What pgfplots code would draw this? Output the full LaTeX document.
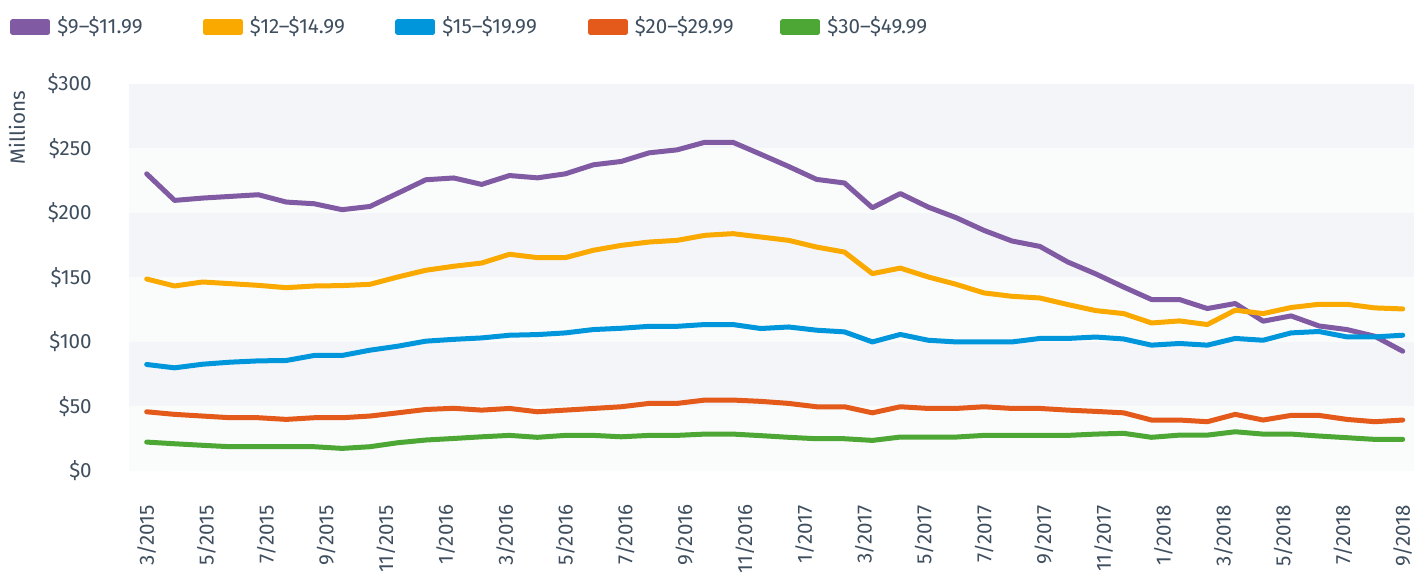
\documentclass[border=0pt]{standalone}
\usepackage{fontspec}
\setmainfont{Fira Sans}
\usepackage{pgfplots}
\pgfplotsset{compat=1.18}
\usepackage{pgfplotstable}
\definecolor{cpurple}{RGB}{128,91,163}
\definecolor{corange}{RGB}{250,169,0}
\definecolor{cblue}{RGB}{0,150,219}
\definecolor{cred}{RGB}{227,90,26}
\definecolor{cgreen}{RGB}{77,167,53}
\definecolor{bandgrey}{RGB}{244,245,249}
\definecolor{bandwhite}{RGB}{250,251,251}
\definecolor{ctext}{RGB}{62,78,94}
\pgfplotstableread{
i  a      b      c      d     e
0  230.3  148.7  82.4   45.7  22.2
1  209.7  143.3  79.8   43.7  20.9
2  211.5  146.4  82.6   42.4  19.7
3  212.8  145.1  84.2   41.1  18.6
4  214.1  143.8  85.2   41.1  18.6
5  208.4  142.0  85.5   39.8  18.6
6  207.1  143.3  89.4   41.1  18.6
7  202.5  143.6  89.4   41.1  17.3
8  205.0  144.6  93.5   42.4  18.6
9  215.3  150.3  96.6   44.9  21.7
10 225.7  155.5  100.5  47.5  23.8
11 227.1  158.6  101.9  48.4  25.0
12 222.1  161.1  103.0  47.0  26.3
13 229.0  167.9  105.1  48.3  27.4
14 227.2  165.3  105.6  45.7  25.9
15 230.3  165.3  106.9  47.0  27.4
16 237.3  171.0  109.5  48.3  27.4
17 239.9  174.8  110.5  49.6  26.3
18 246.6  177.4  112.0  52.2  27.4
19 248.9  178.7  112.0  52.2  27.4
20 254.8  182.6  113.4  54.8  28.4
21 254.8  183.9  113.4  54.8  28.4
22 245.5  181.3  110.3  53.8  27.2
23 236.0  178.7  111.5  52.2  25.9
24 226.0  173.5  109.0  49.6  24.8
25 223.2  169.6  107.7  49.6  24.8
26 204.0  152.9  99.9   44.9  23.5
27 215.0  157.2  105.7  49.6  26.1
28 204.5  150.3  101.2  48.3  26.1
29 196.3  144.6  99.9   48.3  26.1
30 186.4  137.9  99.9   49.6  27.4
31 178.2  135.3  99.9   48.3  27.4
32 174.0  134.0  102.6  48.3  27.4
33 161.9  128.9  102.6  47.0  27.4
34 152.7  124.2  103.7  46.0  28.4
35 142.5  121.9  102.2  44.9  29.0
36 132.8  114.6  97.4   39.3  25.9
37 132.8  116.2  98.7   39.3  27.6
38 125.8  113.4  97.4   38.0  27.6
39 129.7  124.5  102.6  43.7  30.2
40 116.0  121.9  101.2  39.3  28.4
41 120.1  126.6  106.9  42.9  28.4
42 112.3  129.1  108.0  42.9  26.9
43 109.5  129.1  103.8  39.8  25.6
44 104.3  126.3  103.8  38.0  24.3
45 92.7   125.5  105.1  39.3  24.3
}\datatable
\begin{document}
\fontsize{10.3pt}{12.4pt}\selectfont
\color{ctext}
\begin{tikzpicture}
\begin{axis}[
  scale only axis,
  width=642.5pt, height=193.35pt,
  xmin=-0.634, xmax=45.405, ymin=0, ymax=300,
  axis line style={draw=none},
  major tick length=0pt,
  ytick={0,50,100,150,200,250,300},
  yticklabels={\$0,\$50,\$100,\$150,\$200,\$250,\$300},
  yticklabel style={xshift=-15pt, text=ctext},
  xtick={0,2.142857,4.285714,6.428571,8.571429,10.714286,12.857143,15,17.142857,19.285714,21.428571,23.571429,25.714286,27.857143,30,32.142857,34.285714,36.428571,38.571429,40.714286,42.857143,45},
  xticklabels={3/2015,5/2015,7/2015,9/2015,11/2015,1/2016,3/2016,5/2016,7/2016,9/2016,11/2016,1/2017,3/2017,5/2017,7/2017,9/2017,11/2017,1/2018,3/2018,5/2018,7/2018,9/2018},
  xticklabel style={rotate=90, anchor=east, xshift=-13.5pt, text=ctext},
  ylabel={Millions},
  ylabel style={at={(axis description cs:-0.0872,1)}, anchor=east, text=ctext},
  legend columns=5,
  legend cell align=left,
  legend style={draw=none, fill=none, inner sep=0pt, at={(axis description cs:0,1)}, anchor=west, xshift=-59.5pt, yshift=28.5pt, text=ctext,
    nodes={inner sep=0pt},
    /tikz/every even column/.style={column sep=0pt}},
  legend image code/.code={\fill[#1] (0pt,-2.6pt) rectangle (17.5pt,2.6pt);},
  every axis plot/.append style={line width=2.5pt, line join=round, line cap=round},
]
\fill[bandgrey] (axis cs:-0.634,250) rectangle (axis cs:45.405,300);
\fill[bandwhite] (axis cs:-0.634,200) rectangle (axis cs:45.405,250);
\fill[bandgrey] (axis cs:-0.634,150) rectangle (axis cs:45.405,200);
\fill[bandwhite] (axis cs:-0.634,100) rectangle (axis cs:45.405,150);
\fill[bandgrey] (axis cs:-0.634,50) rectangle (axis cs:45.405,100);
\fill[bandwhite] (axis cs:-0.634,0) rectangle (axis cs:45.405,50);
\addplot[color=cpurple] table[x=i,y=a] {\datatable};
\addlegendentry{\hspace{3.5pt}\makebox[72.75pt][l]{\$9–\$11.99}}
\addplot[color=corange] table[x=i,y=b] {\datatable};
\addlegendentry{\hspace{3.5pt}\makebox[72.75pt][l]{\$12–\$14.99}}
\addplot[color=cblue] table[x=i,y=c] {\datatable};
\addlegendentry{\hspace{3.5pt}\makebox[72.75pt][l]{\$15–\$19.99}}
\addplot[color=cred] table[x=i,y=d] {\datatable};
\addlegendentry{\hspace{3.5pt}\makebox[72.75pt][l]{\$20–\$29.99}}
\addplot[color=cgreen] table[x=i,y=e] {\datatable};
\addlegendentry{\hspace{3.5pt}\$30–\$49.99}
\end{axis}
\pgfresetboundingbox
\path[use as bounding box] (current axis.north west) ++(-64.5pt,42pt) rectangle ++(708pt,-287pt);
\end{tikzpicture}
\end{document}
